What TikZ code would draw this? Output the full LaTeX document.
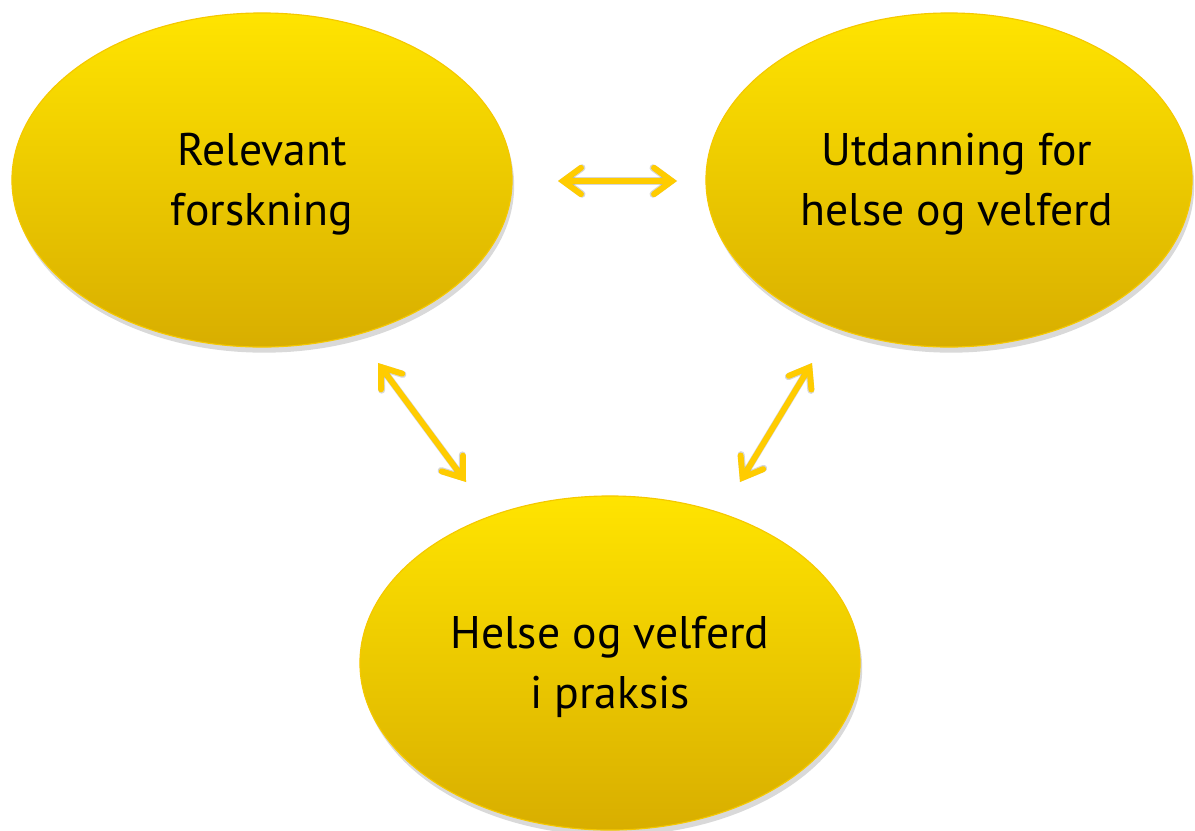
\documentclass[tikz,border=0pt]{standalone}
\usepackage{fontspec}
\setmainfont{PT Sans}
\usetikzlibrary{shapes.geometric,shadows,arrows.meta}
\definecolor{ytop}{HTML}{FFE400}
\definecolor{ybot}{HTML}{D8AE00}
\definecolor{yrim}{HTML}{F5C800}
\definecolor{arr}{HTML}{FFCC00}
\tikzset{
  bubble/.style={ellipse, top color=ytop, bottom color=ybot, draw=yrim, line width=0.8pt,
    inner sep=0pt,
    drop shadow={shadow xshift=1.5pt, shadow yshift=-4pt, opacity=0.3}},
  txt/.style={align=center, font=\fontsize{32.5}{43}\selectfont, text=black, inner sep=0pt},
  link/.style={draw=arr, line width=4.2pt, line cap=round,
    {Straight Barb[length=0.45cm, width=0.66cm, line cap=round]}-{Straight Barb[length=0.45cm, width=0.66cm, line cap=round]}},
  linkshadow/.style={draw=black, opacity=0.16, line width=5pt, line cap=round,
    {Straight Barb[length=0.45cm, width=0.66cm, line cap=round]}-{Straight Barb[length=0.45cm, width=0.66cm, line cap=round]}}
}
\begin{document}
\begin{tikzpicture}[x=0.025cm,y=-0.025cm]
\useasboundingbox (0,0) rectangle (1195,830);
\node[bubble, minimum width=12.5cm, minimum height=8.35cm] (res) at (262,180) {};
\node[bubble, minimum width=12.15cm, minimum height=8.35cm] (edu) at (949,180) {};
\node[bubble, minimum width=12.5cm, minimum height=8.35cm] (pra) at (610,663) {};
\node[txt, xshift=0.0cm, yshift=-0.1cm] (tres) at (res.center) {Relevant\\forskning};
\node[txt, xshift=0.2cm, yshift=-0.1cm] (tedu) at (edu.center) {Utdanning for\\helse og velferd};
\node[txt, xshift=0.0cm, yshift=-0.1cm] (tpra) at (pra.center) {Helse og velferd\\i praksis};
\coordinate (a1) at (558,181);
\coordinate (a2) at (677,181);
\coordinate (b1) at (378,363);
\coordinate (b2) at (466,482);
\coordinate (c1) at (812,363);
\coordinate (c2) at (740,482);
\begin{scope}[xshift=3*0.025cm, yshift=-6*0.025cm]
\draw[linkshadow] (a1) -- (a2);
\draw[linkshadow] (b1) -- (b2);
\draw[linkshadow] (c1) -- (c2);
\end{scope}
\draw[link] (a1) -- (a2);
\draw[link] (b1) -- (b2);
\draw[link] (c1) -- (c2);
\end{tikzpicture}
\end{document}
